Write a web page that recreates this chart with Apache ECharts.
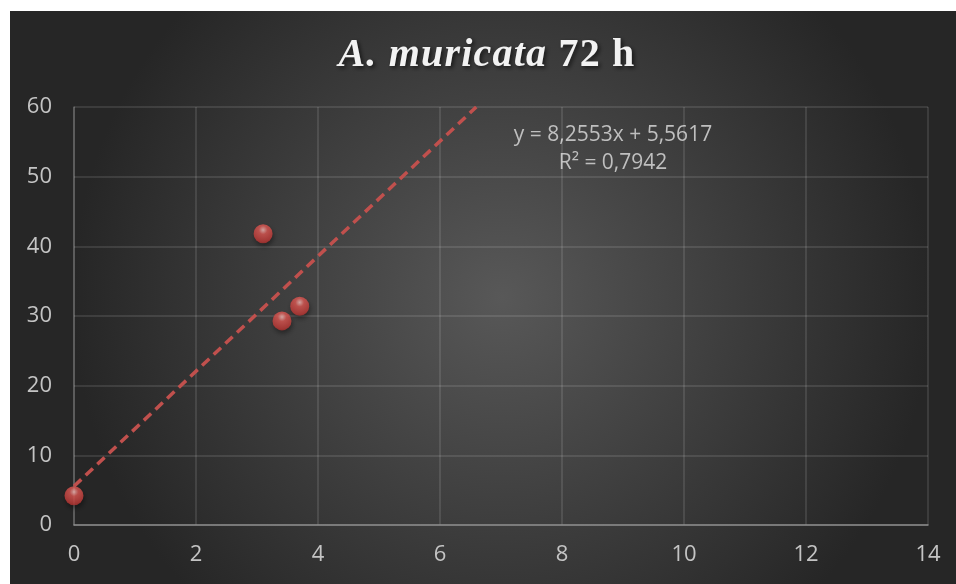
<!DOCTYPE html>
<html>
<head>
<meta charset="utf-8">
<script src="https://cdn.jsdelivr.net/npm/echarts@6/dist/echarts.min.js"></script>
<style>
  html, body { margin: 0; padding: 0; background: #ffffff; }
  #chart { width: 956px; height: 584px; }
</style>
</head>
<body>
<div id="chart"></div>
<script>
// Observed concentration (x) vs. response (y)
const xValues = [0, 3.1, 3.41, 3.7];
const yValues = [4.2, 41.8, 29.3, 31.4];

// Linear trend line coefficients and fit quality
const slope = 8.2553;
const intercept = 5.5617;
const rSquared = '0,7942';

const xTicks = { min: 0, max: 14, interval: 2 };
const yTicks = { min: 0, max: 60, interval: 10 };

const titleItalic = 'A. muricata';
const titlePlain = ' 72 h';

const points = xValues.map((x, i) => [x, yValues[i]]);
// Trend line runs from x = 0 until it leaves the top of the y range
const xEnd = (yTicks.max - intercept) / slope;
const trend = [[0, intercept], [xEnd, yTicks.max]];

const fmt = v => String(v).replace('.', ',');

// Spread title letters slightly apart: one rich fragment per character
const spaced = (str, style) => str.split('').map(c => '{' + style + '|' + c + '}').join('');
const titleFont = { fontFamily: 'Liberation Serif', fontWeight: 'bold', fontSize: 40, fill: '#f2f2f2', padding: [0, 1.2, 0, 0] };

const chart = echarts.init(document.getElementById('chart'));
chart.setOption({
  backgroundColor: '#ffffff',
  animation: false,
  graphic: [{
    type: 'rect',
    z: -10,
    silent: true,
    shape: { x: 10, y: 11, width: 946, height: 573 },
    style: {
      fill: new echarts.graphic.RadialGradient(0.52, 0.5, 0.75, [
        { offset: 0, color: '#585858' },
        { offset: 1, color: '#262626' }
      ])
    }
  }, {
    type: 'text',
    x: 487,
    y: 56,
    style: {
      text: spaced(titleItalic, 'i') + spaced(titlePlain, 'b'),
      align: 'center',
      verticalAlign: 'middle',
      rich: {
        i: Object.assign({}, titleFont, { fontStyle: 'italic' }),
        b: Object.assign({}, titleFont)
      },
      textShadowColor: 'rgba(0,0,0,0.6)',
      textShadowBlur: 4,
      textShadowOffsetX: 2,
      textShadowOffsetY: 2
    }
  }, {
    type: 'text',
    x: 613,
    y: 149,
    style: {
      text: 'y = ' + fmt(slope) + 'x + ' + fmt(intercept) + '\nR² = ' + rSquared,
      align: 'center',
      verticalAlign: 'middle',
      fontFamily: 'Open Sans',
      fontSize: 21,
      lineHeight: 28.5,
      fill: '#bfbfbf'
    }
  }],
  grid: { left: 74, right: 28, top: 107, bottom: 59, containLabel: false },
  xAxis: {
    type: 'value',
    min: xTicks.min, max: xTicks.max, interval: xTicks.interval,
    axisLine: { show: true, onZero: false, lineStyle: { color: '#8a8a8a', width: 1.5 } },
    axisTick: { show: false },
    axisLabel: { color: '#c4c4c4', fontSize: 22, fontFamily: 'Open Sans', margin: 19 },
    splitLine: { show: true, lineStyle: { color: 'rgba(255,255,255,0.14)', width: 1.5 } }
  },
  yAxis: {
    type: 'value',
    min: yTicks.min, max: yTicks.max, interval: yTicks.interval,
    axisLine: { show: true, lineStyle: { color: 'rgba(255,255,255,0.22)', width: 1.5 } },
    axisTick: { show: false },
    axisLabel: { color: '#c4c4c4', fontSize: 22, fontFamily: 'Open Sans', margin: 22 },
    splitLine: { show: true, lineStyle: { color: 'rgba(255,255,255,0.14)', width: 1.5 } }
  },
  series: [{
    type: 'line',
    data: trend,
    symbol: 'none',
    silent: true,
    lineStyle: { color: '#c0504d', width: 3.5, type: [10, 6] },
    z: 2
  }, {
    type: 'scatter',
    data: points,
    symbol: 'circle',
    symbolSize: 19,
    z: 3,
    itemStyle: {
      color: new echarts.graphic.RadialGradient(0.5, 0.3, 0.75, [
        { offset: 0, color: '#f8c0bc' },
        { offset: 0.3, color: '#e05a55' },
        { offset: 0.8, color: '#c23c39' },
        { offset: 1, color: '#9e2b29' }
      ]),
      shadowColor: 'rgba(0,0,0,0.5)',
      shadowBlur: 5,
      shadowOffsetX: 1,
      shadowOffsetY: 3
    }
  }]
});
</script>
</body>
</html>
